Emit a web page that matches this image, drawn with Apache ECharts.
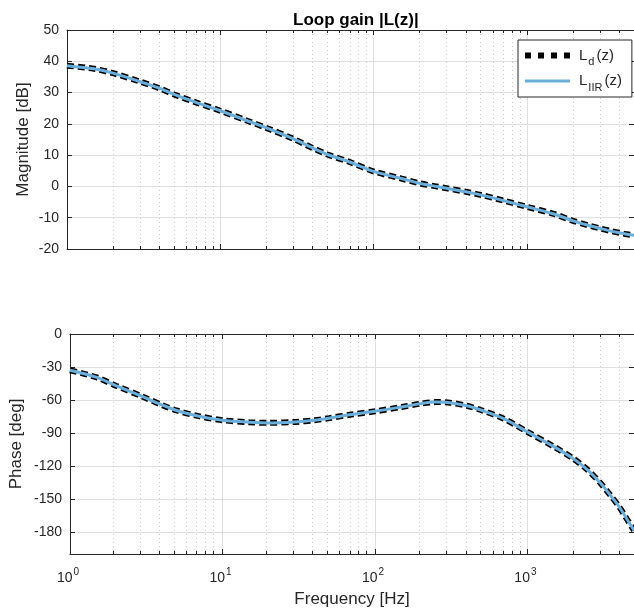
<!DOCTYPE html>
<html><head><meta charset="utf-8">
<script src="https://cdn.jsdelivr.net/npm/echarts@6/dist/echarts.min.js"></script>
<style>html,body{margin:0;padding:0;background:#fff}#c{width:634px;height:610px}</style>
</head><body><div id="c"></div>
<script>
const freq = [1, 1.5, 2, 3, 4, 5, 7, 10, 15, 20, 30, 40, 50, 70, 100, 150, 200, 250, 300, 400, 500, 700, 1000, 1500, 2000, 2500, 3000, 3500, 4000, 4500, 5000];
const magLd = [38.6, 37.6, 36.2, 33.5, 31.4, 29.4, 26.8, 24.2, 21.0, 18.7, 15.2, 12.3, 10.2, 7.8, 4.8, 2.6, 1.0, 0.1, -0.6, -1.7, -2.7, -4.5, -6.5, -8.8, -11.0, -12.4, -13.4, -14.2, -14.8, -15.3, -15.6];
const magIIR = [38.6, 37.6, 36.2, 33.5, 31.4, 29.4, 26.8, 24.2, 21.0, 18.7, 15.2, 12.3, 10.2, 7.8, 4.8, 2.6, 1.0, 0.1, -0.6, -1.7, -2.7, -4.5, -6.5, -8.8, -11.0, -12.4, -13.4, -14.2, -14.8, -15.3, -15.6];
const phaseLd = [-33, -39.5, -47, -57, -64.5, -69.5, -74.7, -78.4, -80.2, -80.8, -79.9, -78.4, -76.5, -73.2, -70.3, -66.3, -63.3, -61.9, -62.2, -65.2, -69.3, -77, -89, -102.6, -113.3, -123.9, -135.3, -146.6, -157.1, -168.4, -178.5];
const phaseIIR = [-33, -39.5, -47, -57, -64.5, -69.5, -74.7, -78.4, -80.2, -80.8, -79.9, -78.4, -76.5, -73.2, -70.3, -66.3, -63.3, -61.9, -62.2, -65.2, -69.3, -77, -89, -102.6, -113.3, -123.9, -135.3, -146.6, -157.1, -168.4, -178.5];
const majorTicks = [1, 10, 100, 1000];
const minorTicks = [2,3,4,5,6,7,8,9,20,30,40,50,60,70,80,90,200,300,400,500,600,700,800,900,2000,3000,4000];
const magTicks = [-20,-10,0,10,20,30,40,50];
const phaseTicks = [-180,-150,-120,-90,-60,-30,0];
const seriesNames = ['Ld', 'LIIR'];

const FONT = 'Liberation Sans, Arial, Helvetica, sans-serif';
const TXT = '#262626';
const AX = '#262626';
const MAJ = '#dfdfdf';
const MIN = '#cccccc';
const BLUE = '#6aafdc';
const X0 = 1, X1 = 5000;

const panels = [
  {top: 30, height: 219, ymin: -20, ymax: 50, ticks: magTicks, name: 'Magnitude [dB]', nameGap: 35.5, labels: false},
  {top: 334, height: 220, ymin: -200, ymax: 0, ticks: phaseTicks, name: 'Phase [deg]', nameGap: 45, labels: true}
];

const grids = [], xAxes = [], yAxes = [];
panels.forEach((p, i) => {
  const gMain = grids.length;
  grids.push({left: 67, width: 567, top: p.top, height: p.height, containLabel: false});
  const gMin = grids.length;
  grids.push({left: 67, width: 567, top: p.top, height: p.height, containLabel: false});
  const common = {type: 'log', logBase: 10, min: X0, max: X1};
  xAxes.push(Object.assign({}, common, {
    gridIndex: gMain, position: 'bottom',
    axisLine: {show: true, onZero: false, lineStyle: {color: AX, width: 1}},
    axisTick: {show: true, inside: true, length: 5, customValues: majorTicks, lineStyle: {color: AX}},
    axisLabel: {show: p.labels, customValues: majorTicks, margin: 13, color: TXT, fontFamily: FONT,
      formatter: v => '{b|10}{e|' + Math.round(Math.log10(v)) + '}',
      rich: {b: {fontSize: 14, color: TXT, fontFamily: FONT}, e: {fontSize: 10, color: TXT, fontFamily: FONT, padding: [0, 4, 12, 1]}}},
    splitLine: {show: true, lineStyle: {color: MAJ, width: 1}},
    name: p.labels ? 'Frequency [Hz]' : '', nameLocation: 'middle', nameGap: 37,
    nameTextStyle: {fontSize: 17, color: TXT, fontFamily: FONT}
  }));
  const xMainIdx = xAxes.length - 1;
  xAxes.push(Object.assign({}, common, {
    gridIndex: gMain, position: 'top',
    axisLine: {show: true, onZero: false, lineStyle: {color: AX, width: 1}},
    axisTick: {show: true, inside: true, length: 5, customValues: majorTicks, lineStyle: {color: AX}},
    axisLabel: {show: false}, splitLine: {show: false}
  }));
  xAxes.push(Object.assign({}, common, {
    gridIndex: gMin, position: 'bottom',
    axisLine: {show: false, onZero: false},
    axisTick: {show: true, inside: true, length: 3, customValues: minorTicks, lineStyle: {color: AX}},
    axisLabel: {show: false},
    splitLine: {show: true, lineStyle: {color: MIN, width: 1, type: [1, 3]}}
  }));
  xAxes.push(Object.assign({}, common, {
    gridIndex: gMin, position: 'top',
    axisLine: {show: false, onZero: false},
    axisTick: {show: true, inside: true, length: 3, customValues: minorTicks, lineStyle: {color: AX}},
    axisLabel: {show: false}, splitLine: {show: false}
  }));
  yAxes.push({
    type: 'value', gridIndex: gMain, position: 'left', min: p.ymin, max: p.ymax,
    axisLine: {show: true, onZero: false, lineStyle: {color: AX, width: 1}},
    axisTick: {show: true, inside: true, length: 5, customValues: p.ticks, lineStyle: {color: AX}},
    axisLabel: {show: true, customValues: p.ticks, margin: 8, fontSize: 14, color: TXT, fontFamily: FONT},
    splitLine: {show: true, lineStyle: {color: MAJ, width: 1}},
    name: p.name, nameLocation: 'middle', nameGap: p.nameGap, nameMoveOverlap: false,
    nameTextStyle: {fontSize: 17, color: TXT, fontFamily: FONT}
  });
  const yMainIdx = yAxes.length - 1;
  yAxes.push({
    type: 'value', gridIndex: gMain, position: 'right', min: p.ymin, max: p.ymax,
    axisLine: {show: true, onZero: false, lineStyle: {color: AX, width: 1}},
    axisTick: {show: true, inside: true, length: 5, customValues: p.ticks, lineStyle: {color: AX}},
    axisLabel: {show: false}, splitLine: {show: false}
  });
  yAxes.push({type: 'value', gridIndex: gMin, min: p.ymin, max: p.ymax, show: false});
  p.xIdx = xMainIdx; p.yIdx = yMainIdx;
});

function pairs(ys) { return freq.map((f, i) => [f, ys[i]]); }
const blackStyle = {color: '#000', width: 6, type: [7, 4]};
const blueStyle = {color: BLUE, width: 3};
function mk(name, panel, ys, style, z) {
  return {name: name, type: 'line', xAxisIndex: panel.xIdx, yAxisIndex: panel.yIdx, data: pairs(ys),
    showSymbol: false, symbol: 'none', smooth: 0.3, lineStyle: style,
    itemStyle: {color: style.color}, z: z};
}
const series = [
  mk(seriesNames[0], panels[0], magLd, blackStyle, 3),
  mk(seriesNames[1], panels[0], magIIR, blueStyle, 4),
  mk(seriesNames[0], panels[1], phaseLd, blackStyle, 3),
  mk(seriesNames[1], panels[1], phaseIIR, blueStyle, 4)
];

const chart = echarts.init(document.getElementById('c'), null, {renderer: 'canvas'});
chart.setOption({
  animation: false,
  backgroundColor: '#fff',
  title: {text: 'Loop gain |L(z)|', left: 288, top: 7,
    textStyle: {fontSize: 17, fontWeight: 'bold', color: '#000', fontFamily: FONT}},
  legend: {
    orient: 'vertical', left: 518, top: 40,
    padding: [3.5, 10, 4, 7], itemGap: 1.5, itemWidth: 45, itemHeight: 24,
    backgroundColor: '#fff', borderColor: AX, borderWidth: 1,
    selectedMode: false,
    data: [
      {name: seriesNames[0], icon: 'path://M0,0h6v6h-6z M13,0h6v6h-6z M26,0h6v6h-6z M39,0h6v6h-6z', itemStyle: {color: '#000'}},
      {name: seriesNames[1], icon: 'path://M0,0h45v3h-45z', itemStyle: {color: BLUE}}
    ],
    formatter: n => n === 'Ld' ? '{g|}{m|L}{s|d}{p|(z)}' : '{g|}{m|L}{s|IIR}{p|(z)}',
    textStyle: {color: TXT, fontFamily: FONT, fontSize: 15, lineHeight: 24,
      rich: {g: {width: 4, lineHeight: 24}, m: {fontSize: 15, lineHeight: 24, color: TXT, fontFamily: FONT},
             p: {fontSize: 15, lineHeight: 24, color: TXT, fontFamily: FONT, padding: [0, 0, 0, 1]},
             s: {fontSize: 11, lineHeight: 8, verticalAlign: 'bottom', color: TXT, fontFamily: FONT, padding: [0, 1, 0, 1]}}}
  },
  grid: grids, xAxis: xAxes, yAxis: yAxes, series: series
});
</script></body></html>
